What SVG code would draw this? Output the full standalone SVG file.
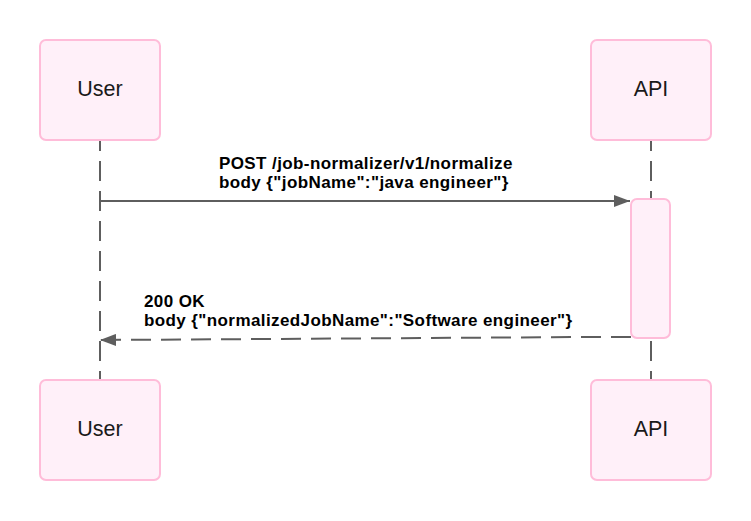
<svg xmlns="http://www.w3.org/2000/svg" width="751" height="521" viewBox="0 0 751 521">
<style>
.box{fill:#fff0f9;stroke:#ffbcd9;stroke-width:2}
.lbl{font-family:"Liberation Sans",Arial,sans-serif;font-size:21.5px;fill:#1a1a1a;text-anchor:middle}
.life{stroke:#5e5e5e;stroke-width:2;stroke-dasharray:20 10;stroke-dashoffset:9;fill:none}
.msg{font-family:"Liberation Sans",Arial,sans-serif;font-size:17px;letter-spacing:0.4px;font-weight:bold;fill:#000}
</style>
<defs>
<marker id="ah2" markerWidth="16" markerHeight="12" refX="16" refY="6" orient="auto" markerUnits="userSpaceOnUse" viewBox="0 0 16 12">
<path d="M0,0 L16,6 L0,12 z" fill="#5e5e5e"/>
</marker>
</defs>
<rect width="751" height="521" fill="#fff"/>
<g id="lifelines">
<line class="life" x1="100" y1="140" x2="100" y2="380"/>
<line class="life" x1="651" y1="140" x2="651" y2="380"/>
</g>
<g id="user-top"><rect class="box" x="40" y="40" width="120" height="100" rx="6"/><text class="lbl" x="100" y="96">User</text></g>
<g id="api-top"><rect class="box" x="591" y="40" width="120" height="100" rx="6"/><text class="lbl" x="651" y="96">API</text></g>
<g id="user-bottom"><rect class="box" x="40" y="380" width="120" height="100" rx="6"/><text class="lbl" x="100" y="436">User</text></g>
<g id="api-bottom"><rect class="box" x="591" y="380" width="120" height="100" rx="6"/><text class="lbl" x="651" y="436">API</text></g>
<g id="activation"><rect class="box" x="631" y="199" width="39" height="139" rx="6"/></g>
<g id="connectors">
<line x1="100" y1="201" x2="630" y2="201" stroke="#5e5e5e" stroke-width="2" marker-end="url(#ah2)"/>
<path d="M631,337 L590,337 L100,340" fill="none" stroke="#5e5e5e" stroke-width="2" stroke-dasharray="20 10" marker-end="url(#ah2)"/>
<text class="msg" x="219" y="169">POST /job-normalizer/v1/normalize</text>
<text class="msg" x="219" y="188">body {"jobName":"java engineer"}</text>
<text class="msg" x="144" y="307">200 OK</text>
<text class="msg" x="144" y="326">body {"normalizedJobName":"Software engineer"}</text>
</g>
</svg>
